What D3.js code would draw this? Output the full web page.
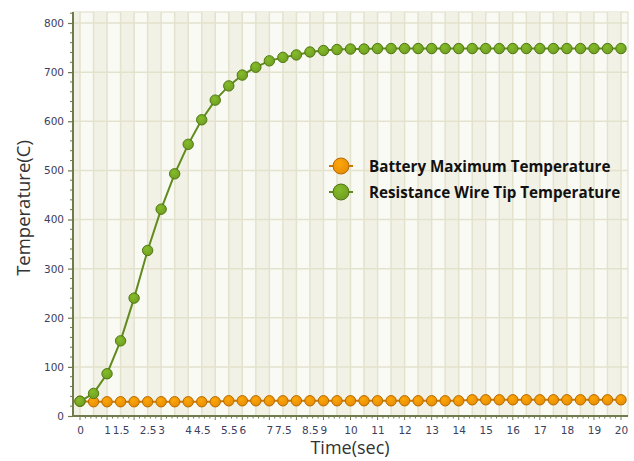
<!DOCTYPE html>
<html>
<head>
<meta charset="utf-8">
<script src="https://cdn.jsdelivr.net/npm/d3@7"></script>
<style>
  html, body { margin: 0; padding: 0; background: #ffffff; }
  svg { display: block; }
</style>
</head>
<body>
<svg id="chart" width="634" height="461"></svg>
<script>
// ---- data ----
const times = d3.range(0, 20.01, 0.5);
const wireTemp = [30, 46, 86, 153, 240, 337, 421, 493, 553, 603, 643, 672, 694, 710, 723, 730, 735, 741, 744, 746,
                  747, 747, 748, 748, 748, 748, 748, 748, 748, 748, 748, 748, 748, 748, 748, 748, 748, 748, 748, 748, 748];
const batteryTemp = [30, 29, 29, 29, 29, 29, 29, 29, 29, 29, 29, 31, 31, 31, 31, 31, 31, 31, 31, 31,
                     31, 31, 31, 31, 31, 31, 31, 31, 31, 33, 33, 33, 33, 33, 33, 33, 33, 33, 33, 33, 33];
const xTickValues = [0, 1, 1.5, 2.5, 3, 4, 4.5, 5.5, 6, 7, 7.5, 8.5, 9, 10, 11, 12, 13, 14, 15, 16, 17, 18, 19, 20];
const yTickValues = [0, 100, 200, 300, 400, 500, 600, 700, 800];
const seriesNames = ["Battery Maximum Temperature", "Resistance Wire Tip Temperature"];
const seriesColors = [
  { fill: "#e48c05", stroke: "#b76a00", line: "#c97a05" },
  { fill: "#6f9d22", stroke: "#4f7812", line: "#5f8c1c" }
];

// ---- layout ----
const svg = d3.select("#chart");
const plot = { left: 73, right: 628, top: 12, bottom: 416 };
const x = d3.scaleLinear().domain([0, 20]).range([80, 621]);
const y = d3.scaleLinear().domain([0, 800]).range([416, 23]);

// gradient for markers
const defs = svg.append("defs");
seriesColors.forEach((c, i) => {
  const g = defs.append("radialGradient").attr("id", "mk" + i).attr("cx", "40%").attr("cy", "35%").attr("r", "70%");
  g.append("stop").attr("offset", "0%").attr("stop-color", d3.color(c.fill).brighter(0.5));
  g.append("stop").attr("offset", "100%").attr("stop-color", c.fill);
});

// background
svg.append("rect").attr("x", plot.left).attr("y", plot.top)
  .attr("width", plot.right - plot.left).attr("height", plot.bottom - plot.top)
  .attr("fill", "#fafaf5").attr("stroke", "#dedcc6").attr("stroke-width", 1);

// alternating bands
const bandEdges = d3.range(-0.5, 20.6, 0.5);
svg.append("g").selectAll("rect")
  .data(bandEdges.filter((d, i) => i % 2 === 0))
  .join("rect")
  .attr("x", d => Math.max(plot.left, x(d)))
  .attr("y", plot.top)
  .attr("width", d => Math.max(0, Math.min(plot.right, x(d + 0.5)) - Math.max(plot.left, x(d))))
  .attr("height", plot.bottom - plot.top)
  .attr("fill", "#f2f1e6");

// vertical grid lines
svg.append("g").selectAll("line")
  .data(d3.range(0, 20.01, 0.5))
  .join("line")
  .attr("x1", d => x(d)).attr("x2", d => x(d))
  .attr("y1", plot.top).attr("y2", plot.bottom)
  .attr("stroke", "#e3e2cd").attr("stroke-width", 1.5);

// horizontal grid lines
svg.append("g").selectAll("line")
  .data(yTickValues.slice(1))
  .join("line")
  .attr("x1", plot.left).attr("x2", plot.right)
  .attr("y1", d => y(d)).attr("y2", d => y(d))
  .attr("stroke", "#e3e2cd").attr("stroke-width", 1.5);

// y axis
const axisColor = "#6f7b4c";
const labelColor = "#3c4060";
const yAxis = d3.axisLeft(y).tickValues(yTickValues).tickSize(5).tickPadding(4);
const gy = svg.append("g").attr("transform", `translate(${plot.left},0)`).call(yAxis);
gy.select(".domain").remove();
gy.selectAll(".tick line").attr("stroke", axisColor).attr("stroke-width", 1.2);
gy.selectAll(".tick text").attr("fill", labelColor).attr("font-family", "DejaVu Sans, Verdana, sans-serif").attr("font-size", "10.5px");
// y minor ticks
svg.append("g").selectAll("line")
  .data(d3.range(0, 821, 20).filter(d => d % 100 !== 0))
  .join("line")
  .attr("x1", plot.left - 3).attr("x2", plot.left)
  .attr("y1", d => y(d)).attr("y2", d => y(d))
  .attr("stroke", axisColor).attr("stroke-width", 1);
svg.append("line").attr("x1", plot.left).attr("x2", plot.left)
  .attr("y1", plot.top).attr("y2", plot.bottom + 1)
  .attr("stroke", axisColor).attr("stroke-width", 2);

// x axis
const xAxis = d3.axisBottom(x).tickValues(xTickValues).tickSize(0).tickPadding(11)
  .tickFormat(d => String(d));
const gx = svg.append("g").attr("transform", `translate(0,${plot.bottom})`).call(xAxis);
gx.select(".domain").remove();
gx.selectAll(".tick text").attr("fill", labelColor).attr("font-family", "DejaVu Sans, Verdana, sans-serif").attr("font-size", "10.5px");
// x minor ticks
svg.append("g").selectAll("line")
  .data(d3.range(0, 101).map(i => i * 0.2).filter(d => d <= 20.2))
  .join("line")
  .attr("x1", d => x(d)).attr("x2", d => x(d))
  .attr("y1", plot.bottom).attr("y2", d => plot.bottom + (Math.abs(d * 2 - Math.round(d * 2)) < 1e-6 ? 4 : 2.5))
  .attr("stroke", axisColor).attr("stroke-width", 1);
svg.append("line").attr("x1", plot.left - 1).attr("x2", plot.right)
  .attr("y1", plot.bottom).attr("y2", plot.bottom)
  .attr("stroke", axisColor).attr("stroke-width", 2);

// series
const series = [batteryTemp, wireTemp];
const line = d3.line().x((d, i) => x(times[i])).y(d => y(d));
series.forEach((vals, si) => {
  const c = seriesColors[si];
  svg.append("path").datum(vals).attr("d", line)
    .attr("fill", "none").attr("stroke", c.line).attr("stroke-width", 2);
  svg.append("g").selectAll("circle").data(vals).join("circle")
    .attr("cx", (d, i) => x(times[i])).attr("cy", d => y(d)).attr("r", 5.2)
    .attr("fill", `url(#mk${si})`).attr("stroke", c.stroke).attr("stroke-width", 1);
});

// legend
const legend = svg.append("g").attr("transform", "translate(329,166)");
seriesNames.forEach((name, i) => {
  const c = seriesColors[i];
  const g = legend.append("g").attr("transform", `translate(0,${i * 26})`);
  g.append("line").attr("x1", 0).attr("x2", 24).attr("y1", 0).attr("y2", 0)
    .attr("stroke", c.line).attr("stroke-width", 2);
  g.append("circle").attr("cx", 12).attr("cy", 0).attr("r", 8)
    .attr("fill", `url(#mk${i})`).attr("stroke", c.stroke).attr("stroke-width", 1);
  g.append("text").attr("x", 40).attr("y", 6).text(name)
    .attr("font-family", "Open Sans, Liberation Sans, sans-serif")
    .attr("font-weight", "bold").attr("font-size", "15.2px").attr("fill", "#111");
});

// axis titles
svg.append("text").attr("x", 350).attr("y", 454).attr("text-anchor", "middle")
  .attr("font-family", "Open Sans, sans-serif").attr("font-size", "18px").attr("fill", "#333")
  .text("Time(sec)");
svg.append("text").attr("transform", "translate(30,208) rotate(-90)").attr("text-anchor", "middle")
  .attr("font-family", "Open Sans, sans-serif").attr("font-size", "18.5px").attr("fill", "#333")
  .text("Temperature(C)");
</script>
</body>
</html>
